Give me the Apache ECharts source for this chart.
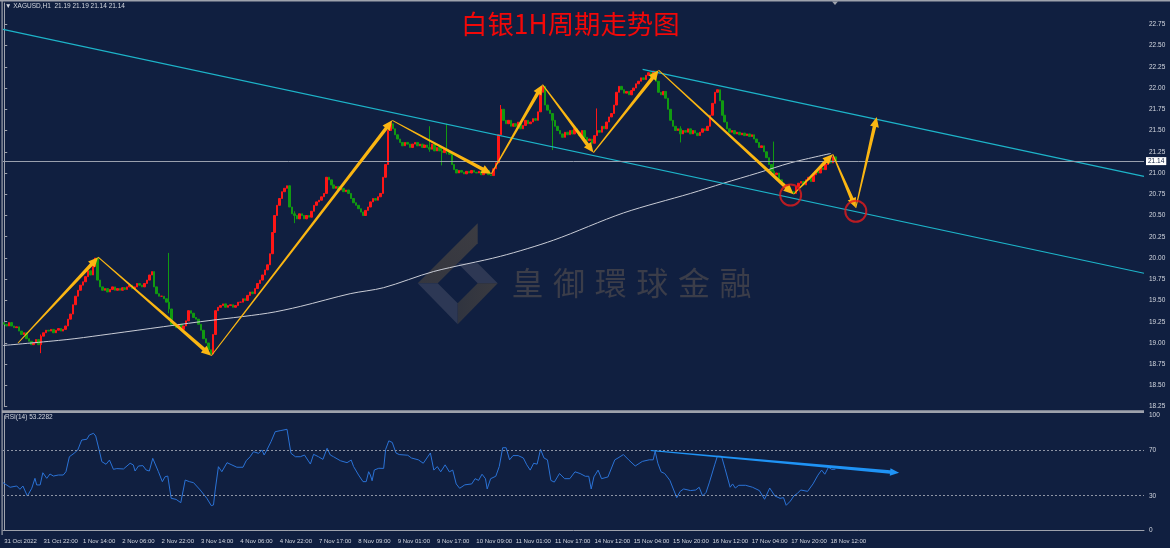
<!DOCTYPE html>
<html>
<head>
<meta charset="utf-8">
<script src="https://cdn.jsdelivr.net/npm/echarts@6/dist/echarts.min.js"></script>
<style>
  html, body { margin: 0; padding: 0; background: #101f40; }
  #chart { width: 1170px; height: 548px; }
</style>
</head>
<body>
<div id="chart"></div>
<script>
// x axis labels, one every 16 hourly bars
var tickLabels = ["31 Oct 2022", "31 Oct 22:00", "1 Nov 14:00", "2 Nov 06:00", "2 Nov 22:00", "3 Nov 14:00",
  "4 Nov 06:00", "4 Nov 22:00", "7 Nov 17:00", "8 Nov 09:00", "9 Nov 01:00", "9 Nov 17:00", "10 Nov 09:00",
  "11 Nov 01:00", "11 Nov 17:00", "14 Nov 12:00", "15 Nov 04:00", "15 Nov 20:00", "16 Nov 12:00",
  "17 Nov 04:00", "17 Nov 20:00", "18 Nov 12:00"];
var barSlots = 464; // bars that fit in the window (right part is empty)

// XAGUSD H1 closes (16 bars per row)
var firstOpen = 19.24;
var closes = [
  19.22, 19.20, 19.24, 19.20, 19.18, 19.19, 19.14, 19.10, 19.12, 19.05, 19.02, 18.98, 19.00, 19.04, 18.98, 19.08,
  19.12, 19.15, 19.14, 19.16, 19.12, 19.15, 19.17, 19.14, 19.16, 19.20, 19.28, 19.34, 19.45, 19.55, 19.62, 19.68,
  19.72, 19.78, 19.85, 19.80, 19.90, 20.00, 19.74, 19.66, 19.62, 19.64, 19.60, 19.63, 19.66, 19.62, 19.64, 19.62,
  19.65, 19.63, 19.66, 19.68, 19.64, 19.66, 19.70, 19.68, 19.66, 19.70, 19.74, 19.80, 19.84, 19.66, 19.58, 19.55,
  19.55, 19.52, 19.48, 19.40, 19.22, 19.20, 19.18, 19.22, 19.16, 19.20, 19.26, 19.38, 19.35, 19.30, 19.28, 19.22,
  19.15, 19.05, 19.00, 18.92, 18.87, 19.10, 19.38, 19.42, 19.44, 19.46, 19.42, 19.44, 19.45, 19.42, 19.44, 19.48,
  19.48, 19.52, 19.50, 19.56, 19.60, 19.58, 19.64, 19.70, 19.74, 19.80, 19.86, 19.92, 20.05, 20.30, 20.50, 20.62,
  20.70, 20.78, 20.82, 20.85, 20.60, 20.52, 20.50, 20.46, 20.52, 20.50, 20.46, 20.50, 20.48, 20.55, 20.62, 20.66,
  20.68, 20.72, 20.76, 20.95, 20.92, 20.86, 20.82, 20.84, 20.80, 20.82, 20.78, 20.80, 20.76, 20.70, 20.65, 20.62,
  20.58, 20.54, 20.50, 20.56, 20.60, 20.66, 20.70, 20.68, 20.72, 20.76, 20.95, 21.10, 21.50, 21.58, 21.52, 21.45,
  21.40, 21.36, 21.32, 21.36, 21.34, 21.30, 21.34, 21.36, 21.32, 21.34, 21.30, 21.33, 21.30, 21.28, 21.34, 21.26,
  21.30, 21.26, 21.24, 21.28, 21.25, 21.22, 21.10, 21.04, 21.00, 21.03, 21.01, 20.99, 21.02, 21.00, 21.03, 21.01,
  21.00, 21.02, 20.98, 21.00, 21.03, 20.98, 20.97, 21.05, 21.12, 21.45, 21.75, 21.62, 21.58, 21.62, 21.55, 21.58,
  21.55, 21.60, 21.52, 21.56, 21.62, 21.58, 21.60, 21.64, 21.62, 21.72, 21.95, 22.02, 21.80, 21.74, 21.70, 21.62,
  21.55, 21.50, 21.46, 21.42, 21.48, 21.45, 21.50, 21.46, 21.52, 21.48, 21.44, 21.50, 21.42, 21.38, 21.40, 21.35,
  21.44, 21.50, 21.48, 21.55, 21.52, 21.60, 21.66, 21.70, 21.80, 21.95, 22.02, 21.98, 21.94, 21.96, 21.92, 21.97,
  22.00, 22.05, 22.08, 22.12, 22.10, 22.15, 22.18, 22.12, 22.20, 22.08, 21.95, 21.92, 21.96, 21.88, 21.75, 21.62,
  21.55, 21.50, 21.52, 21.46, 21.50, 21.48, 21.52, 21.46, 21.50, 21.47, 21.44, 21.48, 21.52, 21.50, 21.55, 21.68,
  21.82, 21.95, 21.98, 21.85, 21.68, 21.60, 21.52, 21.48, 21.50, 21.46, 21.48, 21.45, 21.47, 21.44, 21.46, 21.43,
  21.45, 21.40, 21.36, 21.30, 21.32, 21.25, 21.18, 21.10, 21.02, 20.98, 21.00, 20.92, 20.88, 20.85, 20.86, 20.80,
  20.78, 20.76, 20.84, 20.88, 20.90, 20.86, 20.92, 20.95, 20.90, 20.98, 21.02, 21.00, 21.06, 21.04, 21.10, 21.15,
  21.12, 21.19, 21.14
];
// visible long shadows: [bar, low, high]
var wicks = [[15, 18.88, 19.10], [67, 19.35, 20.06], [118, 20.41, 20.55], [173, 21.25, 21.55], [178, 21.09, 21.30],
  [180, 21.22, 21.58], [202, 21.60, 21.80], [223, 21.27, 21.70], [241, 21.45, 21.76], [275, 21.36, 21.55], [313, 20.95, 21.37]];
var lastPrice = 21.14;

// white moving average [bar, price]
var maPts = [[-0.5, 18.97], [25.5, 19.04], [39, 19.09], [79.7, 19.25], [107, 19.35], [120.4, 19.43], [140.7, 19.58],
  [154.2, 19.65], [174.5, 19.84], [201.8, 20.02], [223.4, 20.21], [251.8, 20.53], [279.1, 20.76], [292.5, 20.88],
  [306.4, 21.00], [319.8, 21.12], [336.1, 21.23]];

// cyan channel lines [bar, price]
var channelLow = [[-0.5, 22.69], [463.5, 19.82]];
var channelHigh = [[259.6, 22.22], [463.5, 20.96]];

// yellow arrow path vertices [bar, price]
var arrowPts = [[5.6, 19.00], [38.2, 20.01], [84.2, 18.85], [157.8, 21.62], [198.1, 20.99], [218.9, 22.04],
  [239.6, 21.24], [266.1, 22.21], [321.0, 20.75], [336.9, 21.22], [346.3, 20.59], [354.8, 21.66]];
var circlePts = [[319.8, 20.74], [346.3, 20.55]];

// RSI(14) [bar, value]
var rsiPts = [[-0.5, 41.4], [2.4, 37.4], [5.1, 38.5], [6.4, 35.6], [7.6, 38.5], [9.4, 29.7], [11.2, 36.5], [12.5, 45.2],
  [13.2, 39.4], [14.6, 39.4], [15.7, 50.1], [17.3, 45.2], [18.6, 49], [20, 47.2], [22, 48.1], [24, 48.1], [25.1, 51],
  [26.5, 64.1], [28.4, 67.1], [29.9, 70], [31.5, 78.7], [33.6, 79.4], [34.6, 83.1], [36.3, 84.6], [37.2, 82.2],
  [38.6, 70], [39.7, 59.8], [41.4, 57.5], [42.8, 61.2], [44.4, 53.1], [45.8, 53.7], [48.5, 53.4], [51.2, 58.4],
  [52.5, 56.9], [53.2, 51.6], [54.6, 56], [56.4, 56.3], [57.7, 52.5], [59, 51.6], [60.4, 62.7], [61.1, 61.8],
  [62.7, 51], [64.3, 42.3], [65.4, 46.6], [66.5, 47.2], [67.9, 27.7], [69.9, 26.8], [71.8, 23.9], [73.6, 43.7],
  [74.3, 43.7], [75.3, 42.3], [77, 41.4], [79.7, 35], [82.4, 27.7], [84.2, 21.3], [85.1, 21.9], [85.8, 35],
  [87.1, 55.4], [88.5, 51], [90.6, 58.9], [92.6, 56.9], [94.6, 54.9], [97.1, 54.9], [98.4, 60.6], [100, 64.1],
  [101.4, 68.5], [103.4, 67.1], [104.8, 70], [105.7, 65.6], [106.8, 70], [108.5, 77.3], [110.2, 86], [112.2, 86.9],
  [115, 88.1], [115.8, 88.4], [116.6, 67.1], [118.4, 64.1], [120.4, 64.1], [122.1, 65.6], [124.5, 57.7],
  [125.8, 66.2], [127.8, 64.1], [129.6, 61.8], [131.3, 71.5], [132.6, 65.6], [133.9, 64.1], [136.7, 60.6],
  [139.4, 58.9], [141.1, 61.2], [142.1, 55.4], [144.1, 48.1], [145.9, 42.3], [147.2, 42.3], [148.2, 51],
  [148.9, 48.1], [149.6, 43.1], [150.5, 52.5], [152.3, 54], [154.3, 53.9], [155.1, 70.5], [156.4, 78],
  [157.8, 76.6], [159.3, 67.4], [160.6, 66], [164.1, 65.4], [165.6, 63], [168.4, 61.4], [170.4, 58.4],
  [173.3, 67.4], [174.7, 52.4], [176.1, 55.5], [177.5, 50.9], [179.3, 57], [181, 50.9], [182.4, 52.4],
  [183.8, 40.3], [185.2, 36.5], [187.3, 39.5], [190.1, 40.3], [191.5, 44.9], [192.9, 43.4], [194.3, 48.8],
  [195.7, 44.9], [196.4, 35.9], [197.8, 44.9], [199.9, 47], [201.3, 55.5], [202.7, 72], [204.1, 72],
  [205.5, 61.4], [206.9, 65.1], [209, 65.1], [211.1, 63], [212.5, 57], [213.9, 52.4], [215.3, 58.4],
  [216.7, 57.6], [218.1, 70.5], [219.5, 63], [220.9, 61.4], [222.3, 43.4], [223.7, 41.9], [225.8, 49.4],
  [227.9, 44.9], [230, 44.9], [232.1, 50.9], [234.2, 49.4], [236.3, 47], [237.7, 47], [238.7, 35.9],
  [239.8, 46.5], [241.5, 52.4], [242.9, 44.9], [245.5, 46.4], [248.3, 61.4], [249.6, 63], [251.8, 66],
  [253.9, 61.4], [256.6, 56], [259.5, 60], [262.3, 61.4], [263.9, 61.4], [264.7, 69], [265.8, 58.4],
  [267.1, 50.9], [268.6, 49.4], [270.7, 43.4], [273.5, 28.3], [274.9, 33.8], [276.3, 35.9], [279.1, 34.5],
  [281.2, 35], [282.6, 37.4], [284, 29.8], [285.4, 32.8], [286.8, 41.9], [288.9, 57], [290, 64.5],
  [291.7, 64.5], [293.1, 53.9], [295.2, 37.4], [296.2, 40.3], [297.3, 36.7], [298.7, 39.1], [301.5, 39.1],
  [304.3, 37.4], [307.1, 34.5], [309.2, 26.9], [311.3, 36.7], [313.4, 29.8], [315.5, 27.7], [316.9, 28.3],
  [318, 21.6], [319.7, 25.3], [321.1, 29.8], [322.5, 31.9], [323.9, 35], [326.7, 33.8], [328.9, 40.3],
  [330.9, 48], [332.4, 52.4], [333.7, 48.8], [335.2, 54.9], [336.5, 53], [338, 53.2]];
var rsiLevels = [70, 30];
var rsiLabels = [0, 30, 70, 100];
var rsiArrow = [[262.9, 69.6], [363.9, 50.0]];

var watermarkChars = ["皇", "御", "環", "球", "金", "融"];

// ---- build ----
var cats = [];
for (var i = 0; i < barSlots; i++) {
  cats.push(i % 16 === 0 && tickLabels[i / 16] ? tickLabels[i / 16] : "");
}
var candles = [];
var prev = firstOpen;
closes.forEach(function (c) {
  candles.push([prev, c, Math.min(prev, c), Math.max(prev, c)]);
  prev = c;
});
wicks.forEach(function (w) {
  var k = candles[w[0]];
  k[2] = Math.min(k[2], w[1]);
  k[3] = Math.max(k[3], w[2]);
});
var arrowSegs = [];
for (var j = 0; j < arrowPts.length - 1; j++) {
  arrowSegs.push([arrowPts[j][0], arrowPts[j][1], arrowPts[j + 1][0], arrowPts[j + 1][1]]);
}

function labelTick(index) {
  return index % 16 === 0 && !!tickLabels[index / 16];
}

// tapered arrow, thin at start, head at the end
function arrowRenderer(color, endHalf, headLen, headHalf) {
  return function (params, api) {
    var p0 = api.coord([api.value(0), api.value(1)]);
    var p1 = api.coord([api.value(2), api.value(3)]);
    var dx = p1[0] - p0[0], dy = p1[1] - p0[1];
    var len = Math.sqrt(dx * dx + dy * dy);
    var ux = dx / len, uy = dy / len, nx = -uy, ny = ux;
    var bx = p1[0] - ux * headLen, by = p1[1] - uy * headLen;
    var s = 0.5;
    return {
      type: "polygon",
      shape: {
        points: [
          [p0[0] + nx * s, p0[1] + ny * s],
          [bx + nx * endHalf, by + ny * endHalf],
          [bx + nx * headHalf, by + ny * headHalf],
          [p1[0], p1[1]],
          [bx - nx * headHalf, by - ny * headHalf],
          [bx - nx * endHalf, by - ny * endHalf],
          [p0[0] - nx * s, p0[1] - ny * s]
        ]
      },
      style: { fill: color }
    };
  };
}

var axisGray = "#9ea2ac";
var textGray = "#d4d8e0";
var smallFont = "Liberation Sans";

var chart = echarts.init(document.getElementById("chart"));
var option = {
  animation: false,
  backgroundColor: "#101f40",
  title: {
    text: "白银1H周期走势图",
    left: 456,
    top: 6,
    textStyle: { color: "#f20808", fontSize: 26.4, fontWeight: "normal", fontFamily: "Noto Sans CJK SC" }
  },
  grid: [
    { left: 3, right: 26, top: 3.06, bottom: 141.3 },
    { left: 3, right: 26, top: 415.7, bottom: 18 }
  ],
  xAxis: [
    { type: "category", gridIndex: 0, data: cats, boundaryGap: true, show: false },
    { type: "value", gridIndex: 0, min: -0.5, max: barSlots - 0.5, show: false },
    {
      type: "category", gridIndex: 1, data: cats, boundaryGap: true, offset: 5,
      axisLine: { lineStyle: { color: axisGray } },
      axisTick: { interval: labelTick, length: 3, lineStyle: { color: axisGray } },
      axisLabel: { interval: labelTick, align: "left", margin: 3, fontSize: 6, color: textGray, fontFamily: smallFont }
    },
    { type: "value", gridIndex: 1, min: -0.5, max: barSlots - 0.5, show: false }
  ],
  yAxis: [
    {
      type: "value", gridIndex: 0, position: "right", min: 18.25, max: 23, interval: 0.25,
      axisLine: { show: true, lineStyle: { color: axisGray } },
      axisTick: { show: true, length: 3, lineStyle: { color: axisGray } },
      axisLabel: {
        margin: 5, fontSize: 6.5, color: textGray, fontFamily: smallFont, showMaxLabel: false,
        formatter: function (v) { return v.toFixed(2); }
      },
      splitLine: { show: false }
    },
    {
      type: "value", gridIndex: 1, position: "right", min: 0, max: 100, interval: 10,
      axisLine: { show: true, lineStyle: { color: axisGray } },
      axisTick: { show: false },
      axisLabel: {
        margin: 5, fontSize: 6.5, color: textGray, fontFamily: smallFont,
        formatter: function (v) { return rsiLabels.indexOf(v) >= 0 ? String(v) : ""; }
      },
      splitLine: { show: false }
    }
  ],
  graphic: [
    { type: "rect", shape: { x: 0, y: 0, width: 1170, height: 1.5 }, style: { fill: axisGray } },
    { type: "rect", shape: { x: 1.5, y: 0, width: 1.2, height: 535 }, style: { fill: axisGray } },
    { type: "rect", shape: { x: 2, y: 410.3, width: 1142, height: 2.6 }, style: { fill: axisGray } },
    { type: "polygon", shape: { points: [[832, 1.5], [838, 1.5], [835, 5]] }, style: { fill: axisGray } },
    {
      type: "text", left: 5, top: 3,
      style: { text: "▼ XAGUSD,H1  21.19 21.19 21.14 21.14", fill: textGray, font: "6.5px Liberation Sans" }
    },
    {
      type: "text", left: 5, top: 414,
      style: { text: "RSI(14) 53.2282", fill: textGray, font: "6.5px Liberation Sans" }
    },
    {
      type: "group", z: 0,
      children: [
        { type: "polygon", shape: { points: [[477.7, 223.3], [477.7, 243.3], [437.7, 283.3], [417.7, 283.3]] },
          style: { fill: new echarts.graphic.LinearGradient(1, 0, 0, 1, [{ offset: 0, color: "#3c3c42" }, { offset: 1, color: "#34363f" }]) } },
        { type: "polygon", shape: { points: [[457.7, 263.3], [477.7, 263.3], [497.7, 283.3], [477.7, 283.3]] },
          style: { fill: "#2e3854" } },
        { type: "polygon", shape: { points: [[417.7, 283.3], [437.7, 283.3], [457.7, 303.3], [457.7, 324.3]] },
          style: { fill: "#2d3855" } },
        { type: "polygon", shape: { points: [[477.7, 283.3], [497.7, 283.3], [457.7, 324.3], [457.7, 303.3]] },
          style: { fill: new echarts.graphic.LinearGradient(1, 0, 0, 0, [{ offset: 0, color: "#3a3a40" }, { offset: 1, color: "#30343f" }]) } }
      ].concat(watermarkChars.map(function (ch, k) {
        return {
          type: "text", x: 527.5 + k * 41.6, y: 283,
          style: { text: ch, fill: "#3b3d49", font: "32px 'Noto Sans CJK TC'", align: "center", verticalAlign: "middle" }
        };
      }))
    }
  ],
  series: [
    {
      name: "XAGUSD", type: "candlestick", xAxisIndex: 0, yAxisIndex: 0,
      data: candles, barWidth: 2,
      itemStyle: { color: "#ff1616", color0: "#119a11", borderColor: "#ff1616", borderColor0: "#119a11", borderWidth: 1 },
      markLine: {
        silent: true, symbol: ["none", "none"],
        lineStyle: { color: "#9aa0ae", width: 1, type: "solid" },
        label: {
          position: "end", distance: 2, formatter: lastPrice.toFixed(2), color: "#101f40",
          backgroundColor: "#ffffff", fontSize: 6.5, fontFamily: smallFont, padding: [1, 2, 0, 2]
        },
        data: [{ yAxis: lastPrice }]
      }
    },
    {
      name: "MA", type: "line", xAxisIndex: 1, yAxisIndex: 0, data: maPts, smooth: 0.3,
      showSymbol: false, lineStyle: { color: "#c9ccd6", width: 1 }, z: 3
    },
    {
      name: "channelLow", type: "line", xAxisIndex: 1, yAxisIndex: 0, data: channelLow,
      showSymbol: false, lineStyle: { color: "#1db4c9", width: 1.2 }
    },
    {
      name: "channelHigh", type: "line", xAxisIndex: 1, yAxisIndex: 0, data: channelHigh,
      showSymbol: false, lineStyle: { color: "#1db4c9", width: 1.2 }
    },
    {
      name: "arrows", type: "custom", xAxisIndex: 1, yAxisIndex: 0, data: arrowSegs, clip: false, z: 5,
      renderItem: arrowRenderer("#fbb612", 1.8, 10, 4.5)
    },
    {
      name: "circles", type: "scatter", xAxisIndex: 1, yAxisIndex: 0, data: circlePts, symbolSize: 21, z: 6,
      itemStyle: { color: "rgba(0,0,0,0)", borderColor: "#e51b1b", borderWidth: 2 }
    },
    {
      name: "RSI", type: "line", xAxisIndex: 3, yAxisIndex: 1, data: rsiPts, showSymbol: false,
      lineStyle: { color: "#2a72d6", width: 1 },
      markLine: {
        silent: true, symbol: ["none", "none"], label: { show: false },
        lineStyle: { color: "#8e94a4", width: 1, type: [2, 2] },
        data: rsiLevels.map(function (v) { return { yAxis: v }; })
      }
    },
    {
      name: "rsiArrow", type: "custom", xAxisIndex: 3, yAxisIndex: 1, data: [[rsiArrow[0][0], rsiArrow[0][1], rsiArrow[1][0], rsiArrow[1][1]]],
      clip: false, z: 5,
      renderItem: arrowRenderer("#1f93f5", 1.8, 9, 3.8)
    }
  ]
};
option && chart.setOption(option);
</script>
</body>
</html>
